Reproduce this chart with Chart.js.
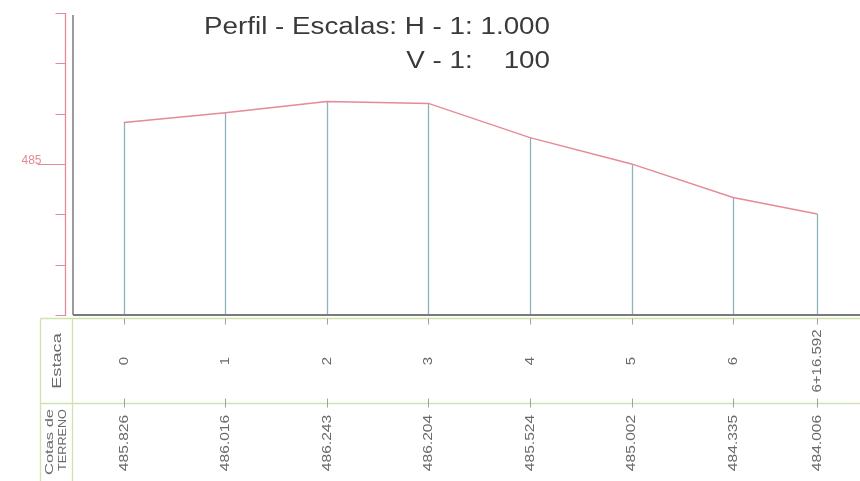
<!DOCTYPE html>
<html>
<head>
<meta charset="utf-8">
<script src="https://cdn.jsdelivr.net/npm/chart.js@4"></script>
<style>
html,body{margin:0;padding:0;background:#fff;}
#wrap{width:860px;height:481px;position:relative;}
</style>
</head>
<body>
<div id="wrap"><canvas id="c" width="860" height="481"></canvas></div>
<script>
// ---- data ----
const estacas = ['0', '1', '2', '3', '4', '5', '6', '6+16.592'];
const distancias = [0, 20, 40, 60, 80, 100, 120, 136.592];
const cotas = [485.826, 486.016, 486.243, 486.204, 485.524, 485.002, 484.335, 484.006];
const cotasTexto = ['485.826', '486.016', '486.243', '486.204', '485.524', '485.002', '484.335', '484.006'];
const yTickValues = [482, 483, 484, 485, 486, 487, 488];
const yTickLabels = ['', '', '', '485', '', '', ''];
const titleLine1 = 'Perfil - Escalas: H - 1: 1.000';
const titleLine2 = 'V - 1:    100';
const rowLabels = ['Estaca', 'Cotas de', 'TERRENO'];

const points = distancias.map((d, i) => ({ x: d, y: cotas[i] }));

const RED = '#e58a96';
const TEAL = '#8fb2b8';
const GREEN = '#cfe3ae';
const GREY_TXT = '#6a6a6a';

function stretchedText(ctx, txt, x, y, rot, sx, align) {
  ctx.save();
  ctx.translate(x, y);
  ctx.rotate(rot);
  ctx.scale(sx, 1);
  ctx.textAlign = align || 'center';
  ctx.fillText(txt, 0, 0);
  ctx.restore();
}

const profilePlugin = {
  id: 'profile',
  beforeDatasetsDraw(chart) {
    const ctx = chart.ctx;
    const xs = chart.scales.x, ys = chart.scales.y;
    const a = chart.chartArea;
    ctx.save();
    // vertical drop lines
    ctx.strokeStyle = TEAL;
    ctx.lineWidth = 1.3;
    distancias.forEach((d, i) => {
      const px = Math.round(xs.getPixelForValue(d)) + 0.5;
      ctx.beginPath();
      ctx.moveTo(px, ys.getPixelForValue(cotas[i]));
      ctx.lineTo(px, a.bottom);
      ctx.stroke();
    });
    // red elevation axis
    const axX = a.left - 7.5;
    ctx.strokeStyle = RED;
    ctx.lineWidth = 1.3;
    ctx.beginPath();
    ctx.moveTo(axX, ys.getPixelForValue(yTickValues[yTickValues.length - 1]));
    ctx.lineTo(axX, ys.getPixelForValue(yTickValues[0]) + 1);
    ctx.stroke();
    ctx.lineWidth = 1;
    yTickValues.forEach((v, i) => {
      const py = Math.round(ys.getPixelForValue(v)) + 0.5;
      ctx.beginPath();
      ctx.moveTo(yTickLabels[i] ? axX - 28 : axX - 10, py);
      ctx.lineTo(axX, py);
      ctx.stroke();
      if (yTickLabels[i]) {
        ctx.fillStyle = RED;
        ctx.font = '12px "Liberation Sans", Arial, sans-serif';
        ctx.textAlign = 'right';
        ctx.textBaseline = 'alphabetic';
        ctx.fillText(yTickLabels[i], axX - 24, py - 1);
      }
    });
    // dark frame: left line and baseline
    ctx.strokeStyle = '#7a7a7a';
    ctx.lineWidth = 1.5;
    ctx.beginPath();
    ctx.moveTo(a.left, ys.getPixelForValue(yTickValues[yTickValues.length - 1]) + 2);
    ctx.lineTo(a.left, a.bottom);
    ctx.stroke();
    ctx.lineWidth = 2.2;
    ctx.beginPath();
    ctx.moveTo(a.left, a.bottom);
    ctx.lineTo(a.right, a.bottom);
    ctx.stroke();
    ctx.restore();
  },
  afterDraw(chart) {
    const ctx = chart.ctx;
    const xs = chart.scales.x;
    const a = chart.chartArea;
    ctx.save();
    // title
    ctx.fillStyle = '#3a3a3a';
    ctx.font = '23px "Liberation Sans", Arial, sans-serif';
    ctx.textBaseline = 'alphabetic';
    const w1 = ctx.measureText(titleLine1).width;
    const sxT = 346 / w1;
    stretchedText(ctx, titleLine1, 550, 34, 0, sxT, 'right');
    stretchedText(ctx, titleLine2, 550, 68, 0, sxT, 'right');

    // table
    const tTop = a.bottom + 3.5, tMid = 403.5, tBot = chart.height;
    const tLeft = 40.5, tInner = 72.5;
    ctx.strokeStyle = GREEN;
    ctx.lineWidth = 1.3;
    ctx.beginPath();
    ctx.moveTo(tLeft, tTop); ctx.lineTo(a.right, tTop);
    ctx.moveTo(tLeft, tMid); ctx.lineTo(a.right, tMid);
    ctx.moveTo(tLeft, tTop); ctx.lineTo(tLeft, tBot);
    ctx.moveTo(tInner, tTop); ctx.lineTo(tInner, tBot);
    ctx.stroke();

    // station ticks
    ctx.strokeStyle = '#9aa5a0';
    ctx.lineWidth = 1;
    distancias.forEach((d) => {
      const px = Math.round(xs.getPixelForValue(d)) + 0.5;
      ctx.beginPath();
      ctx.moveTo(px, tTop); ctx.lineTo(px, tTop + 6);
      ctx.moveTo(px, tMid - 5); ctx.lineTo(px, tMid + 4);
      ctx.stroke();
    });

    // row labels
    ctx.fillStyle = GREY_TXT;
    ctx.textBaseline = 'middle';
    ctx.font = '13px "Liberation Sans", Arial, sans-serif';
    stretchedText(ctx, rowLabels[0], 57, (tTop + tMid) / 2, -Math.PI / 2, 1.4, 'center');
    ctx.font = '11px "Liberation Sans", Arial, sans-serif';
    stretchedText(ctx, rowLabels[1], 50, 442, -Math.PI / 2, 1.5, 'center');
    stretchedText(ctx, rowLabels[2], 63, 440, -Math.PI / 2, 1.15, 'center');

    // values
    ctx.font = '12px "Liberation Sans", Arial, sans-serif';
    distancias.forEach((d, i) => {
      const px = xs.getPixelForValue(d) + 0.5;
      stretchedText(ctx, estacas[i], px, 361, -Math.PI / 2, 1.25, 'center');
      stretchedText(ctx, cotasTexto[i], px, 443, -Math.PI / 2, 1.3, 'center');
    });
    ctx.restore();
  }
};

new Chart(document.getElementById('c'), {
  type: 'line',
  data: {
    datasets: [{
      data: points,
      borderColor: RED,
      borderWidth: 1.5,
      pointRadius: 0,
      tension: 0,
      fill: false
    }]
  },
  options: {
    responsive: false,
    animation: false,
    layout: { padding: { left: 73, right: 0, top: 13, bottom: 166 } },
    plugins: { legend: { display: false }, tooltip: { enabled: false } },
    scales: {
      x: { type: 'linear', min: -10, max: 145, display: false },
      y: { type: 'linear', min: 482, max: 488, display: false }
    }
  },
  plugins: [profilePlugin]
});
</script>
</body>
</html>
